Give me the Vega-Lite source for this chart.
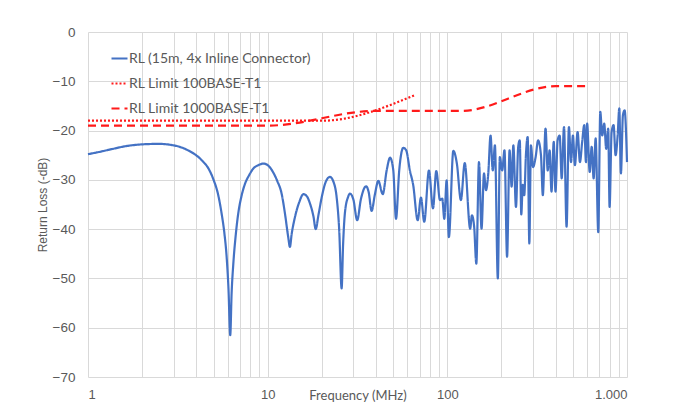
{
  "$schema": "https://vega.github.io/schema/vega-lite/v6.json",
  "width": 539,
  "height": 345,
  "autosize": {"type": "none"},
  "padding": {"left": 88, "top": 32, "right": 46, "bottom": 41},
  "background": "white",
  "config": {
    "view": {"stroke": null},
    "axis": {
      "gridColor": "#d9d9d9",
      "gridWidth": 1,
      "domain": false,
      "ticks": false,
      "labelColor": "#595959",
      "titleColor": "#595959",
      "labelFont": "Liberation Sans",
      "titleFont": "Liberation Sans",
      "titleFontWeight": "normal"
    }
  },
  "data": {
    "values": [
      {"series": "RL (15m, 4x Inline Connector)", "f": 1, "rl": -24.8},
      {"series": "RL (15m, 4x Inline Connector)", "f": 1.2, "rl": -24.2},
      {"series": "RL (15m, 4x Inline Connector)", "f": 1.38, "rl": -23.7},
      {"series": "RL (15m, 4x Inline Connector)", "f": 1.6, "rl": -23.2},
      {"series": "RL (15m, 4x Inline Connector)", "f": 2, "rl": -22.8},
      {"series": "RL (15m, 4x Inline Connector)", "f": 2.46, "rl": -22.7},
      {"series": "RL (15m, 4x Inline Connector)", "f": 3, "rl": -23.0},
      {"series": "RL (15m, 4x Inline Connector)", "f": 3.6, "rl": -24.0},
      {"series": "RL (15m, 4x Inline Connector)", "f": 4.29, "rl": -26.0},
      {"series": "RL (15m, 4x Inline Connector)", "f": 4.7, "rl": -27.8},
      {"series": "RL (15m, 4x Inline Connector)", "f": 5, "rl": -30.0},
      {"series": "RL (15m, 4x Inline Connector)", "f": 5.3, "rl": -33.0},
      {"series": "RL (15m, 4x Inline Connector)", "f": 5.54, "rl": -36.8},
      {"series": "RL (15m, 4x Inline Connector)", "f": 5.75, "rl": -41.0},
      {"series": "RL (15m, 4x Inline Connector)", "f": 5.91, "rl": -45.6},
      {"series": "RL (15m, 4x Inline Connector)", "f": 6.05, "rl": -52.0},
      {"series": "RL (15m, 4x Inline Connector)", "f": 6.19, "rl": -61.5},
      {"series": "RL (15m, 4x Inline Connector)", "f": 6.3, "rl": -53.0},
      {"series": "RL (15m, 4x Inline Connector)", "f": 6.44, "rl": -47.0},
      {"series": "RL (15m, 4x Inline Connector)", "f": 6.65, "rl": -41.0},
      {"series": "RL (15m, 4x Inline Connector)", "f": 6.86, "rl": -36.8},
      {"series": "RL (15m, 4x Inline Connector)", "f": 7.15, "rl": -33.3},
      {"series": "RL (15m, 4x Inline Connector)", "f": 7.48, "rl": -30.8},
      {"series": "RL (15m, 4x Inline Connector)", "f": 7.9, "rl": -29.0},
      {"series": "RL (15m, 4x Inline Connector)", "f": 8.32, "rl": -27.7},
      {"series": "RL (15m, 4x Inline Connector)", "f": 8.9, "rl": -27.0},
      {"series": "RL (15m, 4x Inline Connector)", "f": 9.46, "rl": -26.7},
      {"series": "RL (15m, 4x Inline Connector)", "f": 10.0, "rl": -27.0},
      {"series": "RL (15m, 4x Inline Connector)", "f": 10.7, "rl": -28.4},
      {"series": "RL (15m, 4x Inline Connector)", "f": 11.3, "rl": -30.2},
      {"series": "RL (15m, 4x Inline Connector)", "f": 11.96, "rl": -32.8},
      {"series": "RL (15m, 4x Inline Connector)", "f": 12.5, "rl": -37.0},
      {"series": "RL (15m, 4x Inline Connector)", "f": 13.0, "rl": -41.5},
      {"series": "RL (15m, 4x Inline Connector)", "f": 13.3, "rl": -43.6},
      {"series": "RL (15m, 4x Inline Connector)", "f": 13.6, "rl": -41.0},
      {"series": "RL (15m, 4x Inline Connector)", "f": 14.2, "rl": -37.5},
      {"series": "RL (15m, 4x Inline Connector)", "f": 15.0, "rl": -34.5},
      {"series": "RL (15m, 4x Inline Connector)", "f": 15.8, "rl": -32.9},
      {"series": "RL (15m, 4x Inline Connector)", "f": 16.5, "rl": -33.3},
      {"series": "RL (15m, 4x Inline Connector)", "f": 17.2, "rl": -34.8},
      {"series": "RL (15m, 4x Inline Connector)", "f": 18.0, "rl": -37.5},
      {"series": "RL (15m, 4x Inline Connector)", "f": 18.5, "rl": -40.0},
      {"series": "RL (15m, 4x Inline Connector)", "f": 19.2, "rl": -37.0},
      {"series": "RL (15m, 4x Inline Connector)", "f": 20, "rl": -33.5},
      {"series": "RL (15m, 4x Inline Connector)", "f": 21, "rl": -30.5},
      {"series": "RL (15m, 4x Inline Connector)", "f": 22.2, "rl": -29.4},
      {"series": "RL (15m, 4x Inline Connector)", "f": 23.3, "rl": -30.5},
      {"series": "RL (15m, 4x Inline Connector)", "f": 24.2, "rl": -33.5},
      {"series": "RL (15m, 4x Inline Connector)", "f": 25.0, "rl": -40.0},
      {"series": "RL (15m, 4x Inline Connector)", "f": 25.8, "rl": -52.0},
      {"series": "RL (15m, 4x Inline Connector)", "f": 26.3, "rl": -43.0},
      {"series": "RL (15m, 4x Inline Connector)", "f": 26.9, "rl": -36.8},
      {"series": "RL (15m, 4x Inline Connector)", "f": 28, "rl": -33.5},
      {"series": "RL (15m, 4x Inline Connector)", "f": 28.7, "rl": -32.8},
      {"series": "RL (15m, 4x Inline Connector)", "f": 30, "rl": -34.0},
      {"series": "RL (15m, 4x Inline Connector)", "f": 31.5, "rl": -38.2},
      {"series": "RL (15m, 4x Inline Connector)", "f": 33, "rl": -34.0},
      {"series": "RL (15m, 4x Inline Connector)", "f": 35.3, "rl": -31.3},
      {"series": "RL (15m, 4x Inline Connector)", "f": 36.5, "rl": -32.5},
      {"series": "RL (15m, 4x Inline Connector)", "f": 37.9, "rl": -36.3},
      {"series": "RL (15m, 4x Inline Connector)", "f": 39.5, "rl": -33.0},
      {"series": "RL (15m, 4x Inline Connector)", "f": 41.3, "rl": -30.2},
      {"series": "RL (15m, 4x Inline Connector)", "f": 43.7, "rl": -32.9},
      {"series": "RL (15m, 4x Inline Connector)", "f": 46, "rl": -28.0},
      {"series": "RL (15m, 4x Inline Connector)", "f": 48, "rl": -25.5},
      {"series": "RL (15m, 4x Inline Connector)", "f": 50, "rl": -28.0},
      {"series": "RL (15m, 4x Inline Connector)", "f": 51.8, "rl": -37.9},
      {"series": "RL (15m, 4x Inline Connector)", "f": 54, "rl": -28.0},
      {"series": "RL (15m, 4x Inline Connector)", "f": 56.9, "rl": -23.5},
      {"series": "RL (15m, 4x Inline Connector)", "f": 59, "rl": -24.0},
      {"series": "RL (15m, 4x Inline Connector)", "f": 61.9, "rl": -28.1},
      {"series": "RL (15m, 4x Inline Connector)", "f": 64.6, "rl": -31.1},
      {"series": "RL (15m, 4x Inline Connector)", "f": 68.4, "rl": -38.2},
      {"series": "RL (15m, 4x Inline Connector)", "f": 71.3, "rl": -33.6},
      {"series": "RL (15m, 4x Inline Connector)", "f": 74.4, "rl": -38.5},
      {"series": "RL (15m, 4x Inline Connector)", "f": 79, "rl": -28.1},
      {"series": "RL (15m, 4x Inline Connector)", "f": 83.2, "rl": -35.8},
      {"series": "RL (15m, 4x Inline Connector)", "f": 86.8, "rl": -28.2},
      {"series": "RL (15m, 4x Inline Connector)", "f": 91, "rl": -34.1},
      {"series": "RL (15m, 4x Inline Connector)", "f": 93.7, "rl": -33.8},
      {"series": "RL (15m, 4x Inline Connector)", "f": 96.2, "rl": -37.9},
      {"series": "RL (15m, 4x Inline Connector)", "f": 99.1, "rl": -30.1},
      {"series": "RL (15m, 4x Inline Connector)", "f": 102, "rl": -41.6},
      {"series": "RL (15m, 4x Inline Connector)", "f": 108, "rl": -24.1},
      {"series": "RL (15m, 4x Inline Connector)", "f": 113, "rl": -26.7},
      {"series": "RL (15m, 4x Inline Connector)", "f": 119, "rl": -34.1},
      {"series": "RL (15m, 4x Inline Connector)", "f": 125, "rl": -26.6},
      {"series": "RL (15m, 4x Inline Connector)", "f": 134, "rl": -39.9},
      {"series": "RL (15m, 4x Inline Connector)", "f": 137, "rl": -37.2},
      {"series": "RL (15m, 4x Inline Connector)", "f": 141, "rl": -39.5},
      {"series": "RL (15m, 4x Inline Connector)", "f": 145, "rl": -47.0},
      {"series": "RL (15m, 4x Inline Connector)", "f": 150, "rl": -26.4},
      {"series": "RL (15m, 4x Inline Connector)", "f": 155, "rl": -39.9},
      {"series": "RL (15m, 4x Inline Connector)", "f": 160, "rl": -28.7},
      {"series": "RL (15m, 4x Inline Connector)", "f": 164, "rl": -32.1},
      {"series": "RL (15m, 4x Inline Connector)", "f": 169, "rl": -28.7},
      {"series": "RL (15m, 4x Inline Connector)", "f": 174, "rl": -21.0},
      {"series": "RL (15m, 4x Inline Connector)", "f": 179, "rl": -28.1},
      {"series": "RL (15m, 4x Inline Connector)", "f": 184, "rl": -23.0},
      {"series": "RL (15m, 4x Inline Connector)", "f": 191, "rl": -50.0},
      {"series": "RL (15m, 4x Inline Connector)", "f": 196, "rl": -25.4},
      {"series": "RL (15m, 4x Inline Connector)", "f": 202, "rl": -28.1},
      {"series": "RL (15m, 4x Inline Connector)", "f": 208, "rl": -24.0},
      {"series": "RL (15m, 4x Inline Connector)", "f": 215, "rl": -45.6},
      {"series": "RL (15m, 4x Inline Connector)", "f": 222, "rl": -24.0},
      {"series": "RL (15m, 4x Inline Connector)", "f": 228, "rl": -31.4},
      {"series": "RL (15m, 4x Inline Connector)", "f": 233, "rl": -23.0},
      {"series": "RL (15m, 4x Inline Connector)", "f": 241, "rl": -35.5},
      {"series": "RL (15m, 4x Inline Connector)", "f": 248, "rl": -23.3},
      {"series": "RL (15m, 4x Inline Connector)", "f": 253, "rl": -22.0},
      {"series": "RL (15m, 4x Inline Connector)", "f": 258, "rl": -37.0},
      {"series": "RL (15m, 4x Inline Connector)", "f": 263, "rl": -31.0},
      {"series": "RL (15m, 4x Inline Connector)", "f": 268, "rl": -33.1},
      {"series": "RL (15m, 4x Inline Connector)", "f": 274, "rl": -24.7},
      {"series": "RL (15m, 4x Inline Connector)", "f": 280, "rl": -21.3},
      {"series": "RL (15m, 4x Inline Connector)", "f": 286, "rl": -42.9},
      {"series": "RL (15m, 4x Inline Connector)", "f": 292, "rl": -23.0},
      {"series": "RL (15m, 4x Inline Connector)", "f": 300, "rl": -27.4},
      {"series": "RL (15m, 4x Inline Connector)", "f": 310, "rl": -25.4},
      {"series": "RL (15m, 4x Inline Connector)", "f": 320, "rl": -22.0},
      {"series": "RL (15m, 4x Inline Connector)", "f": 332, "rl": -25.0},
      {"series": "RL (15m, 4x Inline Connector)", "f": 340, "rl": -33.1},
      {"series": "RL (15m, 4x Inline Connector)", "f": 352, "rl": -19.6},
      {"series": "RL (15m, 4x Inline Connector)", "f": 362, "rl": -28.1},
      {"series": "RL (15m, 4x Inline Connector)", "f": 371, "rl": -24.0},
      {"series": "RL (15m, 4x Inline Connector)", "f": 380, "rl": -32.4},
      {"series": "RL (15m, 4x Inline Connector)", "f": 391, "rl": -22.3},
      {"series": "RL (15m, 4x Inline Connector)", "f": 400, "rl": -32.4},
      {"series": "RL (15m, 4x Inline Connector)", "f": 411, "rl": -22.0},
      {"series": "RL (15m, 4x Inline Connector)", "f": 422, "rl": -21.0},
      {"series": "RL (15m, 4x Inline Connector)", "f": 433, "rl": -29.7},
      {"series": "RL (15m, 4x Inline Connector)", "f": 446, "rl": -19.3},
      {"series": "RL (15m, 4x Inline Connector)", "f": 461, "rl": -39.5},
      {"series": "RL (15m, 4x Inline Connector)", "f": 475, "rl": -19.3},
      {"series": "RL (15m, 4x Inline Connector)", "f": 488, "rl": -26.4},
      {"series": "RL (15m, 4x Inline Connector)", "f": 500, "rl": -21.0},
      {"series": "RL (15m, 4x Inline Connector)", "f": 513, "rl": -27.0},
      {"series": "RL (15m, 4x Inline Connector)", "f": 531, "rl": -20.3},
      {"series": "RL (15m, 4x Inline Connector)", "f": 547, "rl": -26.4},
      {"series": "RL (15m, 4x Inline Connector)", "f": 563, "rl": -22.3},
      {"series": "RL (15m, 4x Inline Connector)", "f": 578, "rl": -18.9},
      {"series": "RL (15m, 4x Inline Connector)", "f": 591, "rl": -26.4},
      {"series": "RL (15m, 4x Inline Connector)", "f": 600, "rl": -18.6},
      {"series": "RL (15m, 4x Inline Connector)", "f": 620, "rl": -28.4},
      {"series": "RL (15m, 4x Inline Connector)", "f": 636, "rl": -23.3},
      {"series": "RL (15m, 4x Inline Connector)", "f": 652, "rl": -29.7},
      {"series": "RL (15m, 4x Inline Connector)", "f": 669, "rl": -21.6},
      {"series": "RL (15m, 4x Inline Connector)", "f": 692, "rl": -40.6},
      {"series": "RL (15m, 4x Inline Connector)", "f": 710, "rl": -16.2},
      {"series": "RL (15m, 4x Inline Connector)", "f": 728, "rl": -21.0},
      {"series": "RL (15m, 4x Inline Connector)", "f": 747, "rl": -18.6},
      {"series": "RL (15m, 4x Inline Connector)", "f": 766, "rl": -23.7},
      {"series": "RL (15m, 4x Inline Connector)", "f": 786, "rl": -19.6},
      {"series": "RL (15m, 4x Inline Connector)", "f": 800, "rl": -35.5},
      {"series": "RL (15m, 4x Inline Connector)", "f": 821, "rl": -20.3},
      {"series": "RL (15m, 4x Inline Connector)", "f": 842, "rl": -18.9},
      {"series": "RL (15m, 4x Inline Connector)", "f": 864, "rl": -25.0},
      {"series": "RL (15m, 4x Inline Connector)", "f": 887, "rl": -21.0},
      {"series": "RL (15m, 4x Inline Connector)", "f": 906, "rl": -15.5},
      {"series": "RL (15m, 4x Inline Connector)", "f": 925, "rl": -28.7},
      {"series": "RL (15m, 4x Inline Connector)", "f": 949, "rl": -16.9},
      {"series": "RL (15m, 4x Inline Connector)", "f": 970, "rl": -15.9},
      {"series": "RL (15m, 4x Inline Connector)", "f": 1000, "rl": -26.4},
      {"series": "RL Limit 100BASE-T1", "f": 1, "rl": -18},
      {"series": "RL Limit 100BASE-T1", "f": 20, "rl": -18},
      {"series": "RL Limit 100BASE-T1", "f": 66, "rl": -12.8},
      {"series": "RL Limit 1000BASE-T1", "f": 1, "rl": -19},
      {"series": "RL Limit 1000BASE-T1", "f": 10, "rl": -19},
      {"series": "RL Limit 1000BASE-T1", "f": 40, "rl": -16},
      {"series": "RL Limit 1000BASE-T1", "f": 120, "rl": -16},
      {"series": "RL Limit 1000BASE-T1", "f": 400, "rl": -11},
      {"series": "RL Limit 1000BASE-T1", "f": 600, "rl": -11}
    ]
  },
  "mark": {"type": "line", "interpolate": "monotone", "strokeWidth": 2.2},
  "encoding": {
    "x": {
      "field": "f",
      "type": "quantitative",
      "title": "Frequency (MHz)",
      "scale": {"type": "log", "domain": [1, 1000], "nice": false},
      "axis": {
        "values": [1, 2, 3, 4, 5, 6, 7, 8, 9, 10, 20, 30, 40, 50, 60, 70, 80, 90, 100, 200, 300, 400, 500, 600, 700, 800, 900, 1000],
        "labelExpr": "datum.value == 1 ? '1' : datum.value == 10 ? '10' : datum.value == 100 ? '100' : datum.value == 1000 ? '1.000' : ''",
        "labelOverlap": false,
        "labelFontSize": 13,
        "labelPadding": 11,
        "titleFont": "Lato",
        "titleFontSize": 13,
        "titleBaseline": "middle",
        "titleY": 18
      }
    },
    "y": {
      "field": "rl",
      "type": "quantitative",
      "title": "Return Loss (-dB)",
      "scale": {"domain": [-70, 0], "nice": false},
      "axis": {
        "values": [-70, -60, -50, -40, -30, -20, -10, 0],
        "labelFontSize": 13.5,
        "labelPadding": 13,
        "titleFontSize": 12,
        "titlePadding": 3
      }
    },
    "color": {
      "field": "series",
      "type": "nominal",
      "scale": {
        "domain": ["RL (15m, 4x Inline Connector)", "RL Limit 100BASE-T1", "RL Limit 1000BASE-T1"],
        "range": ["#4472c4", "#ff1a1a", "#ff1a1a"]
      },
      "legend": {
        "title": null,
        "orient": "none",
        "legendX": 22,
        "legendY": 17,
        "padding": 0,
        "symbolType": "stroke",
        "symbolSize": 256,
        "symbolStrokeWidth": 2.2,
        "labelFont": "Lato",
        "labelFontSize": 14,
        "labelColor": "#595959",
        "labelOffset": 0,
        "labelLimit": 0,
        "rowPadding": 8
      }
    },
    "strokeDash": {
      "field": "series",
      "type": "nominal",
      "scale": {
        "domain": ["RL (15m, 4x Inline Connector)", "RL Limit 100BASE-T1", "RL Limit 1000BASE-T1"],
        "range": [[1, 0], [2, 2], [8, 5]]
      },
      "legend": {
        "title": null,
        "orient": "none",
        "legendX": 22,
        "legendY": 17,
        "padding": 0,
        "symbolType": "stroke",
        "symbolSize": 256,
        "symbolStrokeWidth": 2.2,
        "labelFont": "Lato",
        "labelFontSize": 14,
        "labelColor": "#595959",
        "labelOffset": 0,
        "labelLimit": 0,
        "rowPadding": 8
      }
    }
  }
}
